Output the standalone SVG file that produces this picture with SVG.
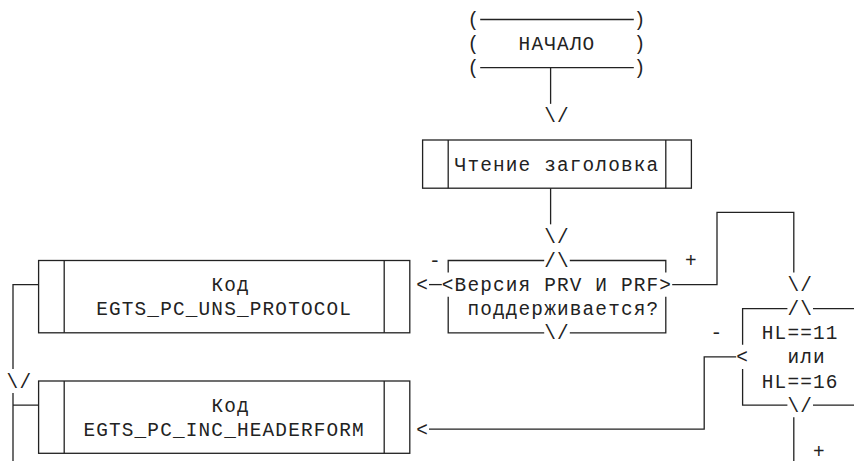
<svg xmlns="http://www.w3.org/2000/svg" width="854" height="461" viewBox="0 0 854 461">
<style>
text{font-family:"Liberation Mono","Courier New",monospace;font-size:19.4px;letter-spacing:1.16px;fill:#222}
.ln{fill:none;stroke:#222;stroke-width:1.3}
</style>
<rect width="854" height="461" fill="#fff"/>
<g id="start">
<text x="467.4" y="26">(</text><text x="633.8" y="26">)</text>
<text x="467.4" y="50.1">(</text><text x="518.6" y="50.1">НАЧАЛО</text><text x="633.8" y="50.1">)</text>
<text x="467.4" y="74.2">(</text><text x="633.8" y="74.2">)</text>
<line class="ln" x1="480.2" y1="19.5" x2="633.8" y2="19.5"/>
<line class="ln" x1="480.2" y1="67.7" x2="633.8" y2="67.7"/>
</g>
<g id="read-header">
<rect class="ln" x="422.6" y="140" width="268.8" height="48.2"/>
<line class="ln" x1="448.2" y1="140" x2="448.2" y2="188.2"/>
<line class="ln" x1="665.8" y1="140" x2="665.8" y2="188.2"/>
<text x="454.6" y="170.6">Чтение заголовка</text>
</g>
<g id="decision-version">
<path class="ln" d="M448.2 272.55V260.5H544.2M569.8 260.5H665.8V272.55"/>
<path class="ln" d="M448.2 296.65V332.8H544.2M569.8 332.8H665.8V296.65"/>
<text x="544.2" y="267">/\</text>
<text x="544.2" y="339.3">\/</text>
<text x="441.8" y="291.1">&lt;Версия PRV И PRF&gt;</text>
<text x="467.4" y="315.2">поддерживается?</text>
</g>
<g id="decision-hl">
<path class="ln" d="M742.6 344.85V308.7H787.4M813 308.7H854"/>
<path class="ln" d="M742.6 368.95V405.1H787.4M813 405.1H854"/>
<text x="787.4" y="315.2">/\</text>
<text x="787.4" y="411.6">\/</text>
<text x="761.8" y="339.3">HL==11</text>
<text x="787.4" y="363.4">или</text>
<text x="761.8" y="387.5">HL==16</text>
</g>
<g id="code-uns-protocol">
<rect class="ln" x="38.6" y="260.5" width="371.2" height="72.3"/>
<line class="ln" x1="64.2" y1="260.5" x2="64.2" y2="332.8"/>
<line class="ln" x1="384.2" y1="260.5" x2="384.2" y2="332.8"/>
<text x="211.4" y="291.1">Код</text>
<text x="96.2" y="315.2">EGTS_PC_UNS_PROTOCOL</text>
</g>
<g id="code-inc-headerform">
<rect class="ln" x="38.6" y="381" width="371.2" height="72.3"/>
<line class="ln" x1="64.2" y1="381" x2="64.2" y2="453.3"/>
<line class="ln" x1="384.2" y1="381" x2="384.2" y2="453.3"/>
<text x="211.4" y="411.6">Код</text>
<text x="83.4" y="435.7">EGTS_PC_INC_HEADERFORM</text>
</g>
<g id="connectors">
<line class="ln" x1="550.6" y1="67.7" x2="550.6" y2="103.85"/>
<text x="544.2" y="122.4">\/</text>
<line class="ln" x1="550.6" y1="188.2" x2="550.6" y2="224.35"/>
<text x="544.2" y="242.9">\/</text>
<text x="429" y="267">-</text>
<text x="416.2" y="291.1">&lt;</text>
<line class="ln" x1="429" y1="284.6" x2="441.8" y2="284.6"/>
<text x="685" y="267">+</text>
<path class="ln" d="M672.2 284.6H717V212.3H793.8V272.55"/>
<text x="787.4" y="291.1">\/</text>
<text x="710.6" y="339.3">-</text>
<text x="736.2" y="363.4">&lt;</text>
<path class="ln" d="M736.2 356.9H704.2V429.2H429"/>
<text x="416.2" y="435.7">&lt;</text>
<line class="ln" x1="793.8" y1="417.15" x2="793.8" y2="461"/>
<text x="813" y="457.5">+</text>
<path class="ln" d="M38.6 284.6H13V368.95"/>
<text x="6.6" y="387.5">\/</text>
<path class="ln" d="M13 461V393.05M13 405.1H38.6"/>
</g>
</svg>
